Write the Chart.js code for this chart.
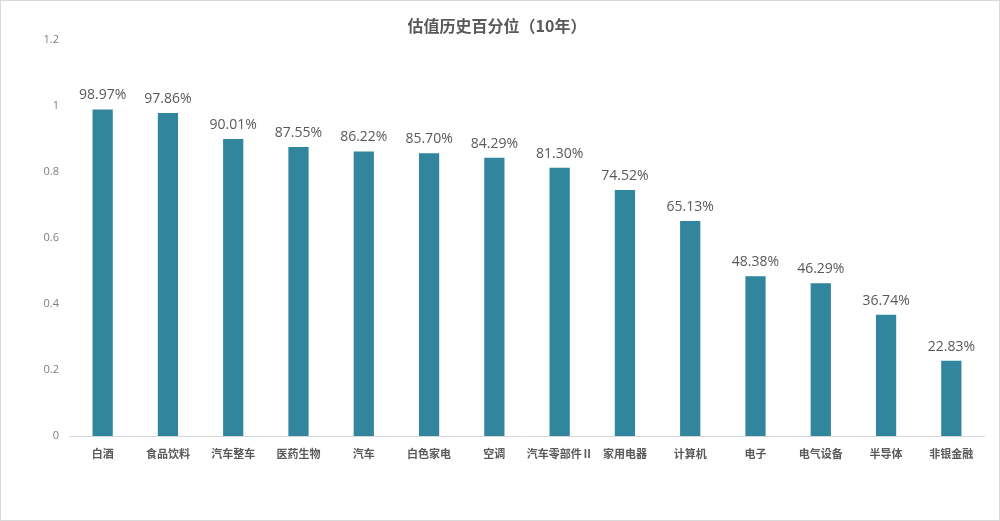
<!DOCTYPE html>
<html>
<head>
<meta charset="utf-8">
<script src="https://cdn.jsdelivr.net/npm/chart.js@4/dist/chart.umd.min.js"></script>
<style>
  html, body { margin: 0; padding: 0; background: #fff; }
  #wrap {
    position: relative;
    width: 1000px;
    height: 521px;
    box-sizing: border-box;
    border: 1px solid #d9d9d9;
  }
  #chart { display: block; }
</style>
</head>
<body>
<div id="wrap"><canvas id="chart" width="998" height="519"></canvas></div>
<script>
/* 估值历史百分位（10年） - bar chart */

const CATEGORIES = ['白酒', '食品饮料', '汽车整车', '医药生物', '汽车', '白色家电', '空调',
    '汽车零部件Ⅱ', '家用电器', '计算机', '电子', '电气设备', '半导体', '非银金融'];
const PERCENTILES = [0.9897, 0.9786, 0.9001, 0.8755, 0.8622, 0.8570, 0.8429,
    0.8130, 0.7452, 0.6513, 0.4838, 0.4629, 0.3674, 0.2283];
const Y_TICKS = [0, 0.2, 0.4, 0.6, 0.8, 1, 1.2];

const BAR_COLOR = '#31859c';
const TEXT_DARK = '#595959';
const TEXT_GREY = '#7f7f7f';
const CJK = "'Noto Sans CJK SC', 'Noto Sans', sans-serif";

// value labels above each bar
const valueLabels = {
    id: 'valueLabels',
    afterDatasetsDraw(chart) {
        const { ctx } = chart;
        const meta = chart.getDatasetMeta(0);
        ctx.save();
        ctx.font = "14px 'Open Sans', 'Noto Sans', sans-serif";
        ctx.fillStyle = TEXT_DARK;
        ctx.textAlign = 'center';
        ctx.textBaseline = 'bottom';
        meta.data.forEach((bar, i) => {
            const v = chart.data.datasets[0].data[i];
            ctx.fillText((v * 100).toFixed(2) + '%', bar.x, bar.y - 7);
        });
        ctx.restore();
    }
};

const ctx = document.getElementById('chart').getContext('2d');
new Chart(ctx, {
    type: 'bar',
    data: {
        labels: CATEGORIES,
        datasets: [{
            data: PERCENTILES,
            backgroundColor: BAR_COLOR,
            borderWidth: 0,
            categoryPercentage: 1,
            barPercentage: 0.31
        }]
    },
    options: {
        responsive: false,
        animation: false,
        layout: { padding: { top: 0, left: 9, right: 15, bottom: 0 } },
        plugins: {
            legend: { display: false },
            tooltip: { enabled: false },
            title: {
                display: true,
                text: '估值历史百分位（10年）',
                color: TEXT_DARK,
                font: { family: CJK, size: 16, weight: 'bold', lineHeight: 1.2 },
                padding: { top: 15, bottom: 4.8 }
            }
        },
        scales: {
            y: {
                min: 0,
                max: 1.2,
                afterBuildTicks(scale) {
                    scale.ticks = Y_TICKS.map(v => ({ value: v }));
                },
                afterFit(scale) { scale.width = 60; },
                grid: { display: false, drawTicks: false },
                border: { display: false },
                ticks: {
                    color: TEXT_GREY,
                    padding: 11,
                    font: { family: "'Open Sans', sans-serif", size: 11 },
                    callback: v => String(+v.toFixed(1))
                }
            },
            x: {
                afterFit(scale) { scale.height = 84; },
                grid: { display: false, drawTicks: false },
                border: { display: true, color: '#d9d9d9', width: 1 },
                ticks: {
                    color: TEXT_DARK,
                    padding: 11,
                    maxRotation: 0,
                    autoSkip: false,
                    font: { family: CJK, size: 11, weight: 'bold' }
                }
            }
        }
    },
    plugins: [valueLabels]
});
</script>
</body>
</html>
